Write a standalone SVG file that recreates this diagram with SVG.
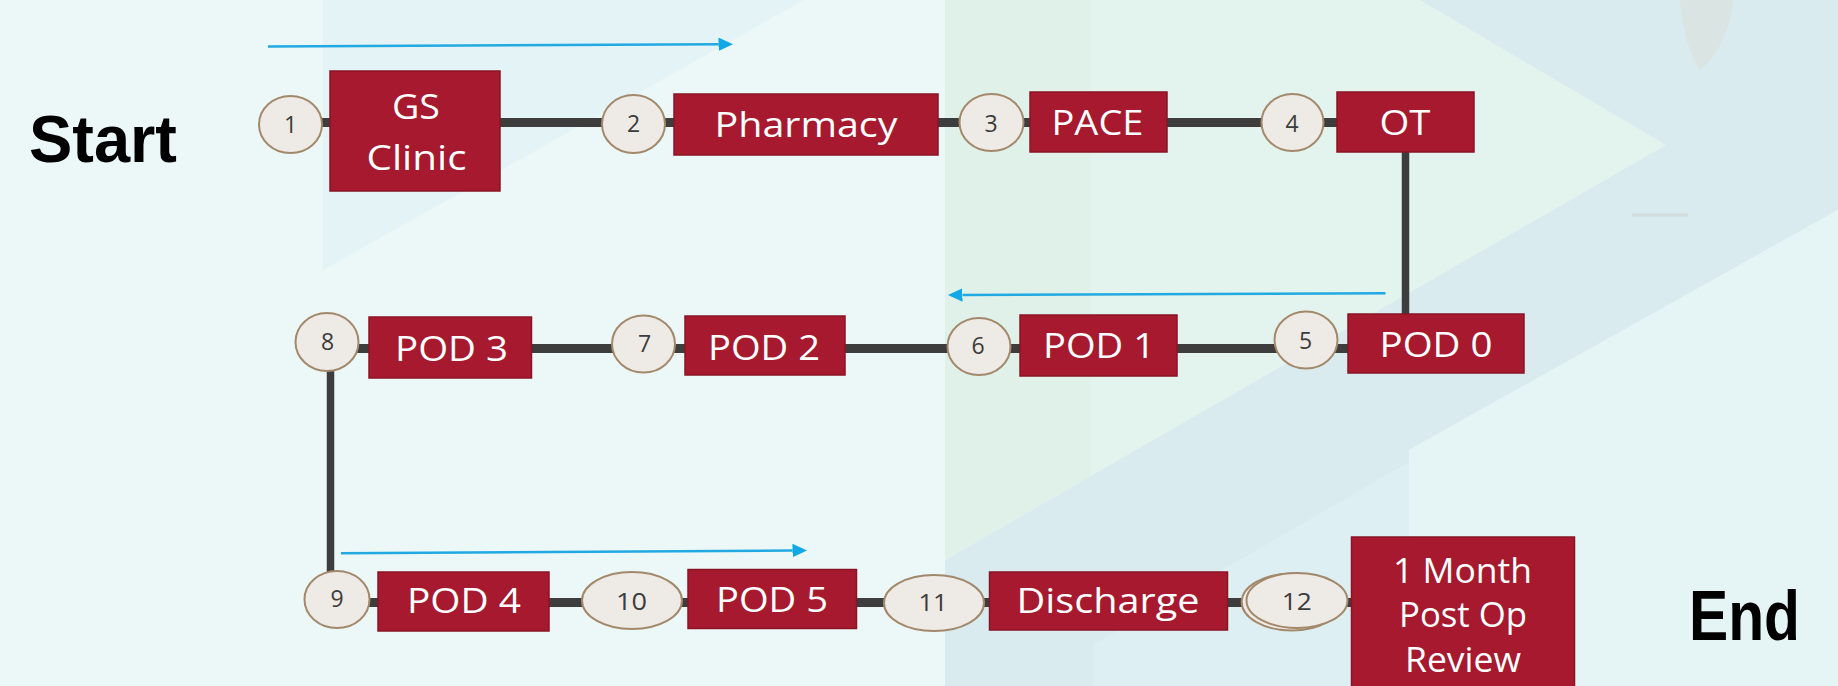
<svg xmlns="http://www.w3.org/2000/svg" width="1838" height="686" viewBox="0 0 1838 686">
<style>
.box{fill:#a6192e;stroke:#8a1426;stroke-width:1.5}
.num{fill:#eeeae5;stroke:#a3896b;stroke-width:2}
.lbl{font-family:'Open Sans','Liberation Sans',sans-serif;font-size:34px;fill:#ffffff;text-anchor:middle}
.dig{font-family:'Open Sans','Liberation Sans',sans-serif;font-size:23px;fill:#3c3c3c;text-anchor:middle}
.big{font-family:'Liberation Sans',Arial,sans-serif;font-weight:bold;fill:#000000}
.path{stroke:#3d3d3d;fill:none;stroke-linecap:butt}
.flow{stroke:#22a9e2;stroke-width:2.5;fill:none}
</style>
<defs>
<marker id="ah" markerUnits="userSpaceOnUse" markerWidth="15" markerHeight="14" refX="0" refY="6.75" orient="auto">
<path d="M0,0 L14.5,6.75 L0,13.5 z" fill="#12a8e6"/>
</marker>
</defs>
<g id="background">
<rect x="0" y="0" width="1838" height="686" fill="#ecf8f8"/>
<polygon points="323,0 804,0 323,270" fill="#e3f3f6"/>
<polygon points="945,0 1420,0 1666,145 945,560" fill="#e0f1ea"/>
<polygon points="1091,0 1420,0 1666,145 1091,476" fill="#e3f3ee"/>
<polygon points="1420,0 1838,0 1838,210 1409,450 1409,686 945,686 945,560 1666,145" fill="#d9ebef"/>
<polygon points="1093,686 1093,645 1409,462 1409,686" fill="#ddeff2"/>
<polygon points="1409,450 1838,210 1838,686 1409,686" fill="#e5f4f5"/>
<path d="M1680,0 L1733,0 C1730,30 1718,55 1700,70 C1690,55 1682,30 1680,0 z" fill="#dae2de" opacity="0.8"/>
<path d="M1632,215 L1688,215" stroke="#d2dcdd" stroke-width="3"/>
</g>
<g id="connectors">
<path class="path" d="M290,122.5 H1405" stroke-width="9"/>
<path class="path" d="M1405.5,122 V314" stroke-width="7.5"/>
<path class="path" d="M327,348.5 H1400" stroke-width="9"/>
<path class="path" d="M330.5,342 V600" stroke-width="7.5"/>
<path class="path" d="M337,602.5 H1400" stroke-width="9"/>
<path class="flow" d="M268,46.5 L718.5,44.3" marker-end="url(#ah)"/>
<path class="flow" d="M1385.5,293.3 L962.5,295" marker-end="url(#ah)"/>
<path class="flow" d="M341,553.3 L792.5,550.5" marker-end="url(#ah)"/>
</g>
<g id="start"><text class="big" x="29" y="162" font-size="66" textLength="148" lengthAdjust="spacingAndGlyphs">Start</text></g>
<g id="end"><text class="big" x="1689" y="640" font-size="70" textLength="111" lengthAdjust="spacingAndGlyphs">End</text></g>
<g id="n1"><ellipse class="num" cx="290.5" cy="124.5" rx="31.5" ry="28.5"/><text class="dig" x="290.5" y="133">1</text></g>
<g id="gsclinic"><rect class="box" x="330" y="71" width="170" height="120"/><text class="lbl" x="416" y="119" textLength="48" lengthAdjust="spacingAndGlyphs">GS</text><text class="lbl" x="416.5" y="170" textLength="100" lengthAdjust="spacingAndGlyphs">Clinic</text></g>
<g id="n2"><ellipse class="num" cx="633.5" cy="124" rx="31.5" ry="29"/><text class="dig" x="633.5" y="132">2</text></g>
<g id="pharmacy"><rect class="box" x="674" y="94" width="264" height="61"/><text class="lbl" x="806" y="136.5" textLength="183" lengthAdjust="spacingAndGlyphs">Pharmacy</text></g>
<g id="n3"><ellipse class="num" cx="991.5" cy="122.5" rx="32" ry="28.5"/><text class="dig" x="991" y="131.5">3</text></g>
<g id="pace"><rect class="box" x="1030" y="92" width="137" height="60"/><text class="lbl" x="1097.5" y="135" textLength="92" lengthAdjust="spacingAndGlyphs">PACE</text></g>
<g id="n4"><ellipse class="num" cx="1292.5" cy="122.5" rx="31" ry="28.5"/><text class="dig" x="1292" y="131.5">4</text></g>
<g id="ot"><rect class="box" x="1337" y="92" width="137" height="60"/><text class="lbl" x="1405" y="135" textLength="51" lengthAdjust="spacingAndGlyphs">OT</text></g>
<g id="n5"><ellipse class="num" cx="1306" cy="340" rx="31.5" ry="28.5"/><text class="dig" x="1305.5" y="349">5</text></g>
<g id="pod0"><rect class="box" x="1348" y="314" width="176" height="59"/><text class="lbl" x="1436" y="357.3" textLength="113" lengthAdjust="spacingAndGlyphs">POD 0</text></g>
<g id="n6"><ellipse class="num" cx="979" cy="346.5" rx="31.5" ry="28.5"/><text class="dig" x="978" y="354">6</text></g>
<g id="pod1"><rect class="box" x="1020" y="315" width="157" height="61"/><text class="lbl" x="1099" y="358" textLength="112" lengthAdjust="spacingAndGlyphs">POD 1</text></g>
<g id="n7"><ellipse class="num" cx="643.5" cy="344" rx="31.5" ry="28.5"/><text class="dig" x="644.5" y="352">7</text></g>
<g id="pod2"><rect class="box" x="685" y="316" width="160" height="59"/><text class="lbl" x="764" y="360" textLength="112" lengthAdjust="spacingAndGlyphs">POD 2</text></g>
<g id="n8"><ellipse class="num" cx="327" cy="342" rx="31.5" ry="29"/><text class="dig" x="327.5" y="350">8</text></g>
<g id="pod3"><rect class="box" x="369" y="317" width="162.5" height="61"/><text class="lbl" x="451.5" y="361" textLength="113" lengthAdjust="spacingAndGlyphs">POD 3</text></g>
<g id="n9"><ellipse class="num" cx="337" cy="599.5" rx="32.5" ry="28.5"/><text class="dig" x="337" y="607">9</text></g>
<g id="pod4"><rect class="box" x="378" y="572" width="171" height="59"/><text class="lbl" x="464" y="613" textLength="114" lengthAdjust="spacingAndGlyphs">POD 4</text></g>
<g id="n10"><ellipse class="num" cx="632" cy="600.5" rx="50" ry="28.5"/><text class="dig" x="631.5" y="610" textLength="31" lengthAdjust="spacingAndGlyphs">10</text></g>
<g id="pod5"><rect class="box" x="688" y="569.5" width="168.5" height="59"/><text class="lbl" x="772" y="611.7" textLength="112" lengthAdjust="spacingAndGlyphs">POD 5</text></g>
<g id="n11"><ellipse class="num" cx="934" cy="603" rx="50" ry="28"/><text class="dig" x="933" y="611" textLength="29" lengthAdjust="spacingAndGlyphs">11</text></g>
<g id="discharge"><rect class="box" x="989.5" y="572" width="238" height="58"/><text class="lbl" x="1108" y="613" textLength="183" lengthAdjust="spacingAndGlyphs">Discharge</text></g>
<g id="n12"><ellipse class="num" cx="1291.7" cy="602" rx="50" ry="28.5"/><ellipse class="num" cx="1297" cy="600.5" rx="50.5" ry="27.5"/><text class="dig" x="1296.7" y="610" textLength="30" lengthAdjust="spacingAndGlyphs">12</text></g>
<g id="review"><rect class="box" x="1351.5" y="537" width="223" height="160"/><text class="lbl" x="1462.5" y="583" textLength="139" lengthAdjust="spacingAndGlyphs">1 Month</text><text class="lbl" x="1463" y="627" textLength="128" lengthAdjust="spacingAndGlyphs">Post Op</text><text class="lbl" x="1463" y="671.5" textLength="116" lengthAdjust="spacingAndGlyphs">Review</text></g>
</svg>
